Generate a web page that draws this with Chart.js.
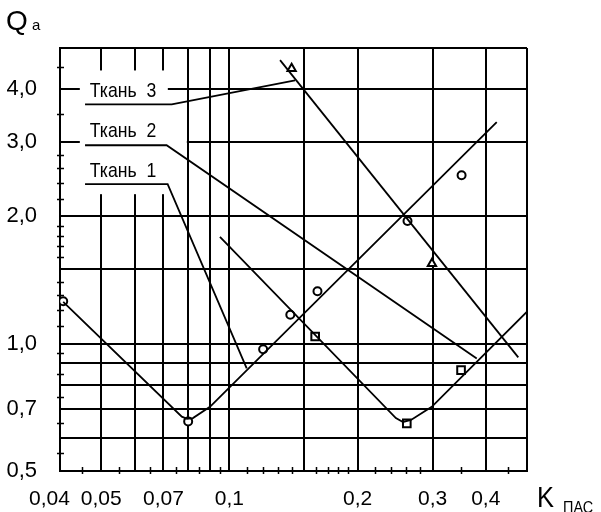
<!DOCTYPE html>
<html>
<head>
<meta charset="utf-8">
<script src="https://cdn.jsdelivr.net/npm/chart.js@4"></script>
<style>
  html, body { margin: 0; padding: 0; background: #fff; }
</style>
</head>
<body>
<canvas id="chart" width="601" height="512"></canvas>
<script>
// значения сетки и подписи осей (K пас / Q a)
const xGrid   = [0.04, 0.05, 0.06, 0.07, 0.08, 0.09, 0.1, 0.15, 0.2, 0.3, 0.4, 0.5];
const xLabels = ['0,04', '0,05', '', '0,07', '', '', '0,1', '', '0,2', '0,3', '0,4', ''];
const xMinor  = [0.045, 0.055, 0.065, 0.075, 0.085, 0.095, 0.11, 0.12, 0.13, 0.14,
                 0.16, 0.17, 0.18, 0.19, 0.22, 0.24, 0.26, 0.28, 0.35, 0.45];

const yGrid   = [0.5, 0.6, 0.7, 0.8, 0.9, 1.0, 1.5, 2.0, 3.0, 4.0, 5.0];
const yLabels = ['0,5', '', '0,7', '', '', '1,0', '', '2,0', '3,0', '4,0', ''];
const yMinor  = [0.55, 0.65, 0.75, 0.85, 0.95, 1.1, 1.2, 1.3, 1.4, 1.6, 1.7, 1.8, 1.9,
                 2.2, 2.4, 2.6, 2.8, 3.5, 4.5];

// Ткань 1 - кружки
const t1PointsX = [0.0407, 0.080, 0.120, 0.139, 0.161, 0.262, 0.351];
const t1PointsY = [1.26, 0.655, 0.97, 1.17, 1.33, 1.95, 2.50];
const t1LineX = [0.0407, 0.0773, 0.0795, 0.0821, 0.090, 0.4245];
const t1LineY = [1.256, 0.672, 0.664, 0.667, 0.709, 3.34];

// Ткань 2 - квадраты
const t2PointsX = [0.159, 0.261, 0.350];
const t2PointsY = [1.04, 0.648, 0.866];
const t2LineX = [0.095, 0.246, 0.2557, 0.267, 0.2987, 0.5];
const t2LineY = [1.789, 0.667, 0.653, 0.660, 0.709, 1.19];

// Ткань 3 - треугольники
const t3PointsX = [0.140, 0.299];
const t3PointsY = [4.47, 1.547];
const t3LineX = [0.1315, 0.477];
const t3LineY = [4.68, 0.928];

// подписи кривых и выноски к ним
const seriesNames = ['Ткань 1', 'Ткань 2', 'Ткань 3'];
const labelX = [0.047, 0.047, 0.047];
const labelY = [2.475, 3.076, 3.82];
const leaderX = [[0.0458, 0.0716, 0.1098], [0.0458, 0.0712, 0.381], [0.0458, 0.0732, 0.1426]];
const leaderY = [[2.382, 2.382, 0.874], [2.945, 2.945, 0.923], [3.68, 3.68, 4.19]];

const FONT = '"Liberation Sans", Arial, sans-serif';

function pts(xs, ys) {
    return xs.map((x, i) => ({ x: x, y: ys[i] }));
}

function lineSet(xs, ys) {
    return {
        data: pts(xs, ys),
        showLine: true,
        borderColor: '#000',
        borderWidth: 1.8,
        pointRadius: 0,
        fill: false,
        tension: 0
    };
}

function markSet(xs, ys, style, r) {
    return {
        data: pts(xs, ys),
        showLine: false,
        pointStyle: style,
        pointRadius: r,
        pointBorderWidth: 2,
        pointBorderColor: '#000',
        pointBackgroundColor: '#fff'
    };
}

// текст, сжатый по ширине (узкий чертёжный шрифт)
function narrowText(ctx, text, x, y, size, sx) {
    ctx.save();
    ctx.font = size + 'px ' + FONT;
    ctx.translate(x, y);
    ctx.scale(sx, 1);
    ctx.fillText(text, 0, 0);
    ctx.restore();
}

// белые подложки, подписи "Ткань", мелкие засечки, названия осей
const decorPlugin = {
    id: 'decor',
    beforeDatasetsDraw(chart) {
        const ctx = chart.ctx;
        const xs = chart.scales.x, ys = chart.scales.y;
        ctx.save();
        ctx.fillStyle = '#fff';
        seriesNames.forEach((name, i) => {
            const lx = xs.getPixelForValue(labelX[i]);
            const ly = ys.getPixelForValue(labelY[i]);
            const w = (i === 2) ? 88 : 107;
            ctx.fillRect(lx - 10, ly - 27, w, 44);
        });
        ctx.fillStyle = '#000';
        ctx.textBaseline = 'alphabetic';
        ctx.textAlign = 'left';
        seriesNames.forEach((name, i) => {
            const lx = xs.getPixelForValue(labelX[i]);
            const ly = ys.getPixelForValue(labelY[i]);
            narrowText(ctx, name.replace(' ', '  '), lx, ly, 21, 0.84);
        });
        ctx.restore();
    },
    afterDraw(chart) {
        const ctx = chart.ctx;
        const xs = chart.scales.x, ys = chart.scales.y;
        const a = chart.chartArea;
        ctx.save();
        ctx.strokeStyle = '#000';
        ctx.lineWidth = 1.5;
        ctx.beginPath();
        xMinor.forEach(v => {
            const px = Math.round(xs.getPixelForValue(v)) + 0.5;
            ctx.moveTo(px, a.bottom - 4);
            ctx.lineTo(px, a.bottom + 3);
        });
        yMinor.forEach(v => {
            const py = Math.round(ys.getPixelForValue(v)) + 0.5;
            ctx.moveTo(a.left - 3, py);
            ctx.lineTo(a.left + 4, py);
        });
        ctx.stroke();

        ctx.fillStyle = '#000';
        ctx.textBaseline = 'alphabetic';
        ctx.textAlign = 'left';
        ctx.font = '28px ' + FONT;
        ctx.fillText('Q', 6, 30);
        ctx.font = '15px ' + FONT;
        ctx.fillText('a', 32, 30);
        narrowText(ctx, 'K', 537, 507, 30, 0.85);
        narrowText(ctx, 'ПАС', 563, 513, 17, 0.85);
        ctx.restore();
    }
};

const ctx = document.getElementById('chart').getContext('2d');
const myChart = new Chart(ctx, {
    type: 'scatter',
    data: {
        datasets: [
            lineSet(t1LineX, t1LineY),
            lineSet(t2LineX, t2LineY),
            lineSet(t3LineX, t3LineY),
            lineSet(leaderX[0], leaderY[0]),
            lineSet(leaderX[1], leaderY[1]),
            lineSet(leaderX[2], leaderY[2]),
            markSet(t1PointsX, t1PointsY, 'circle', 4),
            markSet(t2PointsX, t2PointsY, 'rect', 5.4),
            markSet(t3PointsX, t3PointsY, 'triangle', 4.8)
        ]
    },
    options: {
        responsive: false,
        devicePixelRatio: 1,
        animation: false,
        layout: { padding: { left: 0, right: 74, top: 48, bottom: 0 } },
        plugins: {
            legend: { display: false },
            tooltip: { enabled: false }
        },
        scales: {
            x: {
                type: 'logarithmic',
                min: 0.04,
                max: 0.5,
                afterBuildTicks: s => { s.ticks = xGrid.map(v => ({ value: v })); },
                afterFit: s => { s.height = 41; },
                grid: { color: '#000', lineWidth: 2, drawTicks: false },
                border: { color: '#000', width: 2 },
                ticks: {
                    autoSkip: false,
                    maxRotation: 0,
                    minRotation: 0,
                    padding: 16,
                    color: '#000',
                    font: { family: FONT, size: 21 },
                    // первую подпись сдвигаем влево, как на оригинале
                    callback: (v, i) => i === 0 ? xLabels[i] + '\u2003' : xLabels[i]
                }
            },
            y: {
                type: 'logarithmic',
                min: 0.5,
                max: 5.0,
                afterBuildTicks: s => { s.ticks = yGrid.map(v => ({ value: v })); },
                afterFit: s => { s.width = 60; },
                grid: { color: '#000', lineWidth: 2, drawTicks: false },
                border: { color: '#000', width: 2 },
                ticks: {
                    autoSkip: false,
                    padding: 23,
                    color: '#000',
                    font: { family: FONT, size: 22 },
                    callback: (v, i) => yLabels[i]
                }
            }
        }
    },
    plugins: [decorPlugin]
});
</script>
</body>
</html>
